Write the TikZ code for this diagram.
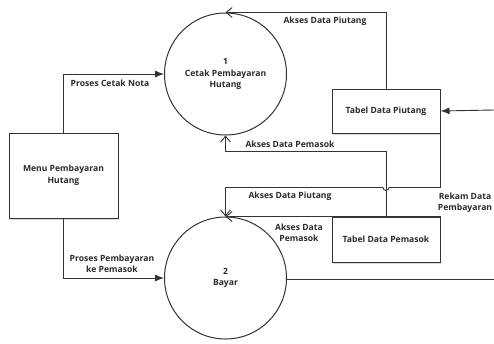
\documentclass[tikz,border=0pt]{standalone}
\usepackage{fontspec}
\setmainfont{Open Sans}
\usetikzlibrary{arrows.meta,shadows,calc}
\definecolor{ink}{HTML}{333333}
\definecolor{txt}{HTML}{2A2A2A}
\begin{document}
\begin{tikzpicture}[x=1pt,y=-1pt,
  every node/.style={font=\fontsize{8.6}{11.5}\selectfont\bfseries, text=txt},
  process/.style={circle, draw=ink, line width=1pt, minimum size=122pt, align=center, inner sep=0pt},
  entity/.style={rectangle, draw=ink, line width=1pt, fill=white, align=center,
    drop shadow={shadow xshift=1.2pt, shadow yshift=-1.6pt, opacity=0.3}},
  flow/.style={draw=ink, line width=0.9pt},
  solid tip/.style={flow, -{Latex[length=9pt,width=7pt]}},
  open tip/.style={flow, -{Straight Barb[length=6pt,width=10pt]}},
  lbl/.style={align=center, inner sep=1pt}]
\useasboundingbox (0,0) rectangle (494,343);

% processes
\node[process] (p1) at (225.5,74) {1\\Cetak Pembayaran\\Hutang};
\node[process] (p2) at (225.5,278) {2\\Bayar};

% external entity and data stores
\node[entity, minimum width=109pt, minimum height=85pt] (menu) at (63.5,175.5) {Menu Pembayaran\\Hutang};
\node[entity, minimum width=108pt, minimum height=44pt] (piutang) at (386,111) {Tabel Data Piutang};
\node[entity, minimum width=108pt, minimum height=45pt] (pemasok) at (386,239.5) {Tabel Data Pemasok};

% free ends at the right margin
\coordinate (inR) at (494,110);
\coordinate (outR) at (494,279);

% flows from the menu
\draw[solid tip] (menu.north) |- (p1.west);
\draw[solid tip] (menu.south) |- (p2.west);

% flows into process 1
\draw[open tip] (piutang.north) |- (p1.north);
\draw[open tip] (pemasok.north) -- ++(0,-65) -| (p1.south);

% flows into process 2
\coordinate (bend) at ($(piutang.south east)+(0,54)$);
\coordinate (hop) at (pemasok.north |- bend);
\draw[open tip] (piutang.south east) -- (bend) -- ($(hop)+(3,0)$)
  arc[start angle=0, end angle=180, radius=3] -| (p2.north);
\draw[open tip] (pemasok.north east) -- (pemasok.north east -| p2.north);

% outgoing and incoming at the margin
\draw[flow] (p2.east |- outR) -- (outR);
\draw[solid tip] (inR) -- (piutang.east);

% labels
\node[lbl] (l1) at (110,83) {Proses Cetak Nota};
\node[lbl] (l2) at (112,264) {Proses Pembayaran\\ke Pemasok};
\node[lbl] (l3) at (325,21) {Akses Data Piutang};
\node[lbl] (l4) at (290,144) {Akses Data Pemasok};
\node[lbl] (l5) at (290,196) {Akses Data Piutang};
\node[lbl] (l6) at (299,233) {Akses Data\\Pemasok};
\node[lbl] (l7) at (465,203) {Rekam Data\\Pembayaran};
\end{tikzpicture}
\end{document}
